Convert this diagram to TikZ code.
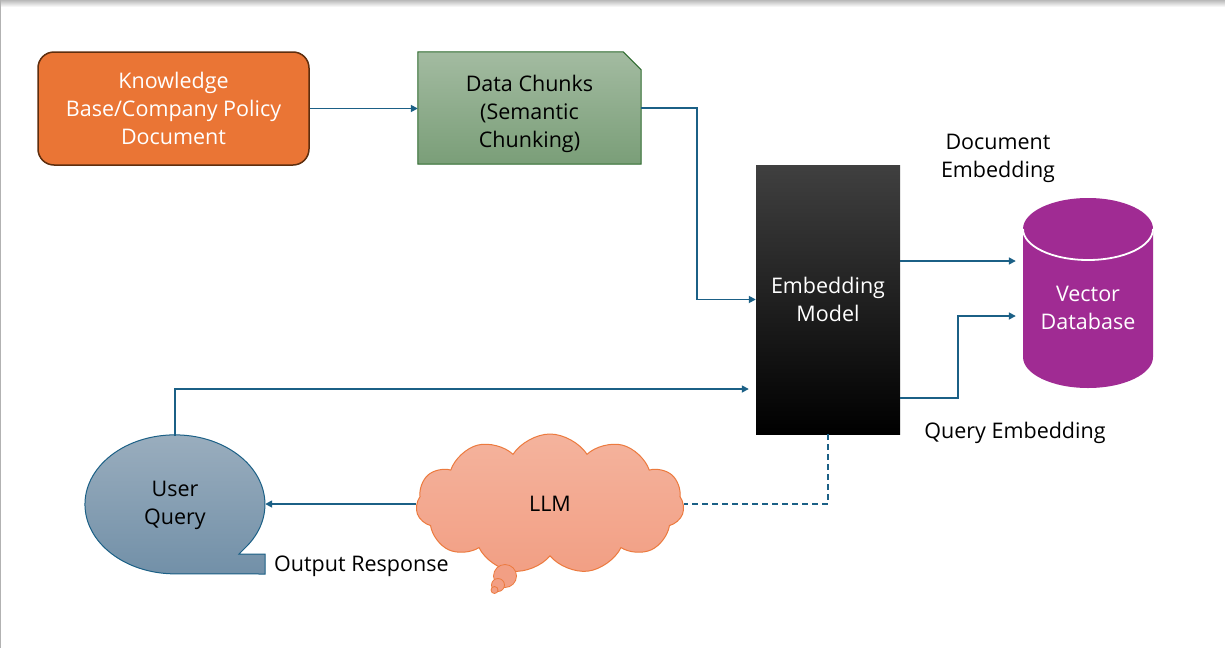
\documentclass[tikz,border=0pt]{standalone}
\usepackage{fontspec}
\setmainfont{Open Sans}
\usetikzlibrary{shapes.symbols,shapes.misc,shapes.geometric,arrows.meta,calc}
\definecolor{conn}{HTML}{1B6086}
\definecolor{kbfill}{HTML}{EA7535}
\definecolor{kbdraw}{HTML}{5E2E0E}
\definecolor{dctop}{HTML}{A3BBA1}
\definecolor{dcbot}{HTML}{7A9E78}
\definecolor{dcdraw}{HTML}{2E6B2E}
\definecolor{vdbfill}{HTML}{A02B93}
\definecolor{uqtop}{HTML}{9CAFBF}
\definecolor{uqbot}{HTML}{7290A8}
\definecolor{llmtop}{HTML}{F4B39D}
\definecolor{llmbot}{HTML}{F29F84}
\definecolor{llmdraw}{HTML}{EC7A3E}
\tikzset{
  txt/.style={font=\fontsize{21.5}{28}\selectfont, align=center, inner sep=0pt},
  connector/.style={draw=conn, line width=1.6pt},
  arr/.style={connector, -{Triangle[length=7pt,width=7pt]}},
}
\begin{document}
\begin{tikzpicture}[x=1pt,y=-1pt]
\useasboundingbox (0,0) rectangle (1225,648);
\fill[white] (0,0) rectangle (1225,648);
\shade[top color=gray!55, bottom color=white] (0,0) rectangle (1225,7);
\draw[gray!60, line width=1pt] (0.5,0) -- (0.5,648);

% Knowledge base
\node[txt, text=white, draw=kbdraw, line width=1.5pt, fill=kbfill, rounded corners=16pt,
  minimum width=271pt, minimum height=113pt] (kb) at (173.5,108.5)
  {Knowledge\\Base/Company Policy\\Document};

% Data chunks (snipped corner drawn from the node's anchors)
\node[minimum width=223pt, minimum height=112pt, inner sep=0pt] (dc) at (529.5,108) {};
\shade[top color=dctop, bottom color=dcbot, draw=dcdraw, line width=1pt]
  (dc.north west) -- ([xshift=-18pt]dc.north east) -- ([yshift=-18pt]dc.north east)
  -- (dc.south east) -- (dc.south west) -- cycle;
\node[txt] (dctext) at (529.5,114) {Data Chunks\\(Semantic\\Chunking)};

% Embedding model
\node[txt, text=white, top color=black!75, middle color=black, bottom color=black,
  minimum width=144pt, minimum height=269pt] (emb) at (828,299.5)
  {Embedding\\Model};

% Vector database (cylinder drawn directly)
\fill[vdbfill] (1088,229) ellipse[x radius=65, y radius=31];
\fill[vdbfill] (1023,229) -- (1153,229) -- (1153,357)
  arc[start angle=0, end angle=180, x radius=65, y radius=31] -- cycle;
\draw[white, line width=1.8pt] (1023,229) arc[start angle=180, end angle=0, x radius=65, y radius=31];
\node[minimum width=130pt, minimum height=190pt, inner sep=0pt] (vdb) at (1088,293) {};
\node[txt, text=white] (vdbtext) at (1088,308) {Vector\\Database};

% User query (speech bubble drawn directly)
\shade[top color=uqtop, bottom color=uqbot, draw=conn, line width=1pt]
  (245,548) arc[start angle=38.9, end angle=-270, x radius=90, y radius=69.5]
  -- (265,574) -- (265,554) -- (239,554) -- cycle;
\node[txt, ellipse, minimum width=180pt, minimum height=139pt] (uq) at (175,505.5)
  {User\\Query};

% LLM cloud
\node[txt, cloud, cloud puffs=11, cloud puff arc=115, aspect=2.1,
  draw=llmdraw, line width=1pt, top color=llmtop, bottom color=llmbot,
  minimum width=268pt, minimum height=140pt, inner sep=0pt] (llm) at (550,504) {LLM};
\filldraw[draw=llmdraw, line width=0.8pt, fill=llmbot] (505,576) circle[radius=11.5];
\filldraw[draw=llmdraw, line width=0.8pt, fill=llmbot] (498,585) circle[radius=6.5];
\filldraw[draw=llmdraw, line width=0.8pt, fill=llmbot] (494.5,590) circle[radius=3.5];

% Labels
\node[txt] (docemb) at (998,158) {Document\\Embedding};
\node[txt] (qemb) at (1015,433) {Query Embedding};
\node[txt, anchor=west] (outr) at (274,566) {Output Response};

% Connectors
\draw[arr] (kb.east) -- (kb.east -| dc.west);
\draw[arr] (dc.east) -- ++(56,0) |- (emb.west);
\draw[arr] ([yshift=38.5pt]emb.east) -- ([xshift=-7pt,yshift=32pt]vdb.west);
\draw[arr] ([yshift=-98.5pt]emb.east) -- ++(58,0) |- ([xshift=-7pt,yshift=-23pt]vdb.west);
\draw[arr] (uq.north) |- ([xshift=-7pt,yshift=-89.5pt]emb.west);
\draw[connector, dash pattern=on 6pt off 4pt] (emb.south) |- (llm.east);
\draw[arr] (llm.west) -- (uq.east |- llm.west);
\end{tikzpicture}
\end{document}
